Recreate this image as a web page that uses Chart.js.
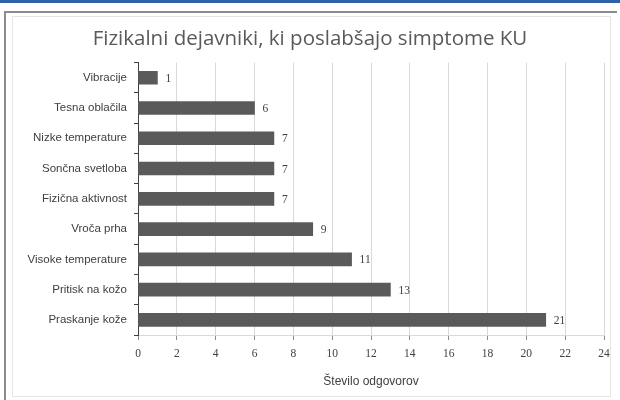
<!DOCTYPE html>
<html>
<head>
<meta charset="utf-8">
<script src="https://cdn.jsdelivr.net/npm/chart.js@4/dist/chart.umd.min.js"></script>
<style>
  html, body { margin: 0; padding: 0; background: #fff; }
  #wrap { width: 620px; height: 400px; position: relative; }
</style>
</head>
<body>
<div id="wrap"><canvas id="chart" width="620" height="400"></canvas></div>
<script>
const categories = [
  "Vibracije",
  "Tesna oblačila",
  "Nizke temperature",
  "Sončna svetloba",
  "Fizična aktivnost",
  "Vroča prha",
  "Visoke temperature",
  "Pritisk na kožo",
  "Praskanje kože"
];
const responses = [1, 6, 7, 7, 7, 9, 11, 13, 21];
const xTicks = [0, 2, 4, 6, 8, 10, 12, 14, 16, 18, 20, 22, 24];

const labelFont = "'Liberation Sans', Arial, sans-serif";
const numFont = "'Liberation Serif', serif";

// frame around the chart (blue strip on top, grey border)
const framePlugin = {
  id: "frame",
  beforeDraw(chart) {
    const c = chart.ctx;
    c.save();
    c.fillStyle = "#fff";
    c.fillRect(0, 0, chart.width, chart.height);
    c.fillStyle = "#2b63a6";
    c.fillRect(0, 0, chart.width, 3);
    c.strokeStyle = "#8c8c8c";
    c.lineWidth = 2;
    c.beginPath();
    c.moveTo(5, 400);
    c.lineTo(5, 12);
    c.lineTo(617, 12);
    c.stroke();
    c.strokeStyle = "#e6e6e6";
    c.lineWidth = 1;
    c.strokeRect(12.5, 16.5, 598, 380);
    c.restore();
  }
};

// value next to each bar
const valuePlugin = {
  id: "values",
  afterDatasetsDraw(chart) {
    const c = chart.ctx;
    const meta = chart.getDatasetMeta(0);
    c.save();
    c.font = "11.5px " + numFont;
    c.fillStyle = "#404040";
    c.textBaseline = "middle";
    meta.data.forEach((bar, i) => {
      c.fillText(String(responses[i]), bar.x + 8, bar.y + 1);
    });
    c.restore();
  }
};

new Chart(document.getElementById("chart"), {
  type: "bar",
  data: {
    labels: categories,
    datasets: [{
      data: responses,
      backgroundColor: "#5a5a5a",
      borderWidth: 0,
      barThickness: 13
    }]
  },
  options: {
    indexAxis: "y",
    responsive: false,
    animation: false,
    layout: { padding: { left: 16, right: 16, top: 0, bottom: 11 } },
    plugins: {
      legend: { display: false },
      tooltip: { enabled: false },
      title: {
        display: true,
        text: "Fizikalni dejavniki, ki poslabšajo simptome KU",
        color: "#595959",
        font: { family: "'Open Sans', sans-serif", size: 20.5, weight: "normal" },
        padding: { top: 27, bottom: 11 }
      }
    },
    scales: {
      x: {
        min: 0,
        max: 24,
        afterBuildTicks(axis) {
          axis.ticks = xTicks.map(v => ({ value: v }));
        },
        grid: {
          color: "#d9d9d9",
          tickColor: "#8c8c8c",
          tickLength: 5
        },
        border: { display: true, color: "#d9d9d9" },
        ticks: {
          color: "#404040",
          font: { family: numFont, size: 11.5 },
          padding: 7
        },
        title: {
          display: true,
          text: "Število odgovorov",
          color: "#404040",
          font: { family: labelFont, size: 12 },
          padding: { top: 6, bottom: 0 }
        },
        afterFit(axis) { axis.height = 54; }
      },
      y: {
        grid: {
          drawOnChartArea: false,
          offset: true,
          tickColor: "#404040",
          tickLength: 4
        },
        border: { display: true, color: "#404040", width: 1 },
        ticks: {
          color: "#404040",
          font: { family: labelFont, size: 11.5 },
          padding: 7
        },
        afterFit(axis) { axis.width = 122; }
      }
    }
  },
  plugins: [framePlugin, valuePlugin]
});
</script>
</body>
</html>
